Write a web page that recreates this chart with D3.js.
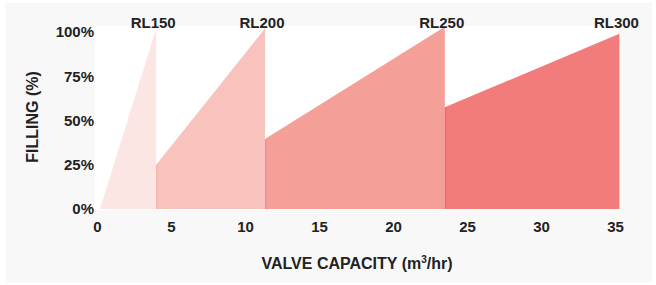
<!DOCTYPE html>
<html><head><meta charset="utf-8">
<script src="https://cdn.jsdelivr.net/npm/d3@7"></script>
<style>
html,body{margin:0;padding:0;background:#fff;}
svg{display:block;font-family:"Liberation Sans",Arial,Helvetica,sans-serif;}
</style></head>
<body><svg id="c" width="656" height="285"></svg>
<script>
const xTicks = [0,5,10,15,20,25,30,35];
const yTicks = [0,25,50,75,100];
const seriesNames = ["RL150","RL200","RL250","RL300"];
const seriesStartX = [0.2, 4.0, 11.35, 23.5];
const seriesEndX   = [4.0, 11.35, 23.5, 35.3];
const seriesStartY = [0, 25, 39.5, 57.5];
const seriesEndY   = [102, 102, 103, 99];
const seriesColors = ["#fce6e4","#f8c3bc","#f4a099","#f27b7b"];
const seriesEdge   = ["#fcdcd9","#f6b5ad","#f28e8c","#ef6a6f"];

const svg = d3.select("#c");
svg.append("rect").attr("x",5).attr("y",3).attr("width",647).attr("height",280).attr("fill","#f8f8f8");

const x = d3.scaleLinear().domain([0,35]).range([97,615]);
const y = d3.scaleLinear().domain([0,100]).range([209,32]);

svg.append("rect").attr("x",95).attr("y",26).attr("width",525).attr("height",184).attr("fill","#ffffff");

const area = d3.area().x(d=>x(d[0])).y0(y(0)).y1(d=>y(d[1]));
seriesNames.forEach((n,i)=>{
  const pts = [[seriesStartX[i], seriesStartY[i]],[seriesEndX[i], seriesEndY[i]]];
  svg.append("path").attr("d", area(pts)).attr("fill", seriesColors[i]);
  if (i>0) {
    svg.append("line").attr("x1",x(seriesStartX[i])+0.75).attr("x2",x(seriesStartX[i])+0.75)
      .attr("y1",y(0)).attr("y2",y(seriesStartY[i])).attr("stroke",seriesEdge[i]).attr("stroke-width",1.5);
  }
  svg.append("text").attr("x", x(seriesEndX[i])-3).attr("y", 28)
    .attr("text-anchor","middle").attr("font-size",15).attr("font-weight","bold")
    .attr("fill","#222").text(n);
});

const xAxis = svg.append("g").attr("transform",`translate(0,${y(0)})`)
  .call(d3.axisBottom(x).tickValues(xTicks).tickSize(0).tickPadding(12));
xAxis.select(".domain").remove();
xAxis.selectAll("text").attr("font-size",15).attr("font-weight","bold").attr("fill","#222")
  .attr("font-family","Liberation Sans, Arial, sans-serif");

const yAxis = svg.append("g").attr("transform",`translate(${x(0)},0)`)
  .call(d3.axisLeft(y).tickValues(yTicks).tickFormat(d=>d+"%").tickSize(0).tickPadding(3));
yAxis.select(".domain").remove();
yAxis.selectAll("text").attr("font-size",15).attr("font-weight","bold").attr("fill","#222")
  .attr("font-family","Liberation Sans, Arial, sans-serif");

const xt = svg.append("text").attr("x",357).attr("y",269).attr("text-anchor","middle")
  .attr("font-size",16).attr("font-weight","bold").attr("fill","#222");
xt.append("tspan").text("VALVE CAPACITY (m");
xt.append("tspan").attr("font-size",10).attr("dy",-6).text("3");
xt.append("tspan").attr("dy",6).text("/hr)");

svg.append("text").attr("transform","translate(38,117) rotate(-90)").attr("text-anchor","middle")
  .attr("font-size",16).attr("font-weight","bold").attr("fill","#222").text("FILLING (%)");
</script></body></html>
